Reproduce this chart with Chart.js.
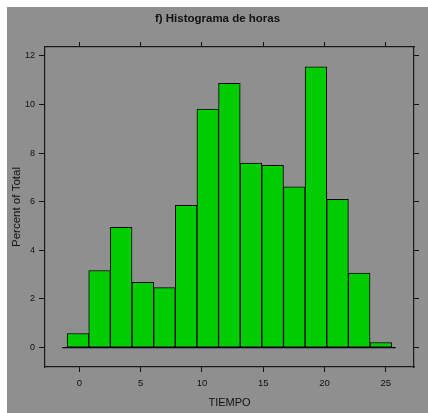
<!DOCTYPE html>
<html>
<head>
<meta charset="utf-8">
<script src="https://cdn.jsdelivr.net/npm/chart.js@4.4.0/dist/chart.umd.min.js"></script>
<style>
  html, body { margin: 0; padding: 0; background: #fff; }
  #wrap { position: absolute; left: 7px; top: 7px; width: 421px; height: 406px; background: #8f8f8f; }
</style>
</head>
<body>
<div id="wrap"><canvas id="histChart" width="421" height="406"></canvas></div>
<script>
// bin edges (hours) and percent of total per bin
const binEdges = [-1.0, 0.77, 2.53, 4.30, 6.06, 7.83, 9.59, 11.36, 13.12, 14.89, 16.65, 18.42, 20.18, 21.95, 23.71, 25.48];
const percents = [0.58, 3.17, 4.95, 2.68, 2.47, 5.85, 9.81, 10.87, 7.59, 7.50, 6.61, 11.55, 6.10, 3.07, 0.21];
const xTicks = [0, 5, 10, 15, 20, 25];
const yTicks = [0, 2, 4, 6, 8, 10, 12];
const baseline = [-1.4, 25.8];

const fontFam = "'Liberation Sans', Arial, sans-serif";

const barData = percents.map(function (p, i) {
    return { x: (binEdges[i] + binEdges[i + 1]) / 2, y: p };
});

function fixTicks(values) {
    return function (scale) {
        scale.ticks = values.map(function (v) { return { value: v }; });
    };
}

function fixSize(prop, size) {
    return function (scale) { scale[prop] = size; };
}

const tickGrid = {
    display: true,
    offset: false,
    drawOnChartArea: false,
    drawTicks: true,
    tickLength: 5,
    color: '#111',
    lineWidth: 1
};
const panelBorder = { display: true, color: '#1a1a1a', width: 1.2 };

const ctx = document.getElementById('histChart').getContext('2d');
new Chart(ctx, {
    data: {
        datasets: [{
            type: 'bar',
            data: barData,
            backgroundColor: '#00cc00',
            borderColor: '#000',
            borderWidth: 1,
            borderSkipped: false,
            barPercentage: 1,
            categoryPercentage: 1,
            xAxisID: 'x',
            yAxisID: 'y'
        }, {
            type: 'line',
            data: baseline.map(function (v) { return { x: v, y: 0 }; }),
            borderColor: '#000',
            borderWidth: 1.3,
            pointRadius: 0,
            xAxisID: 'x',
            yAxisID: 'y'
        }]
    },
    options: {
        responsive: false,
        animation: false,
        layout: { padding: 0 },
        plugins: {
            legend: { display: false },
            tooltip: { enabled: false },
            title: {
                display: true,
                text: 'f) Histograma de horas',
                color: '#111',
                font: { family: fontFam, size: 11.5, weight: 'bold' },
                padding: { top: 5, bottom: 0 }
            }
        },
        scales: {
            x: {
                type: 'linear',
                position: 'bottom',
                offset: false,
                min: -2.8,
                max: 27.3,
                afterBuildTicks: fixTicks(xTicks),
                afterFit: fixSize('height', 46),
                grid: tickGrid,
                border: panelBorder,
                ticks: { color: '#111', font: { family: fontFam, size: 9.5 }, padding: 6, maxRotation: 0 },
                title: {
                    display: true,
                    text: 'TIEMPO',
                    color: '#111',
                    font: { family: fontFam, size: 11 },
                    padding: { top: 0, bottom: 3 }
                }
            },
            x2: {
                type: 'linear',
                position: 'top',
                offset: false,
                min: -2.8,
                max: 27.3,
                afterBuildTicks: fixTicks(xTicks),
                afterFit: fixSize('height', 21.2),
                grid: tickGrid,
                border: panelBorder,
                ticks: { display: false }
            },
            y: {
                type: 'linear',
                position: 'left',
                min: -0.8,
                max: 12.37,
                afterBuildTicks: fixTicks(yTicks),
                afterFit: fixSize('width', 38),
                grid: Object.assign({}, tickGrid, { tickLength: 6 }),
                border: panelBorder,
                ticks: { color: '#111', font: { family: fontFam, size: 9 }, padding: 4 },
                title: {
                    display: true,
                    text: 'Percent of Total',
                    color: '#111',
                    font: { family: fontFam, size: 11.5 },
                    padding: { top: 3, bottom: 0 }
                }
            },
            y2: {
                type: 'linear',
                position: 'right',
                min: -0.8,
                max: 12.37,
                afterBuildTicks: fixTicks(yTicks),
                afterFit: fixSize('width', 14),
                grid: tickGrid,
                border: panelBorder,
                ticks: { display: false }
            }
        }
    }
});
</script>
</body>
</html>
